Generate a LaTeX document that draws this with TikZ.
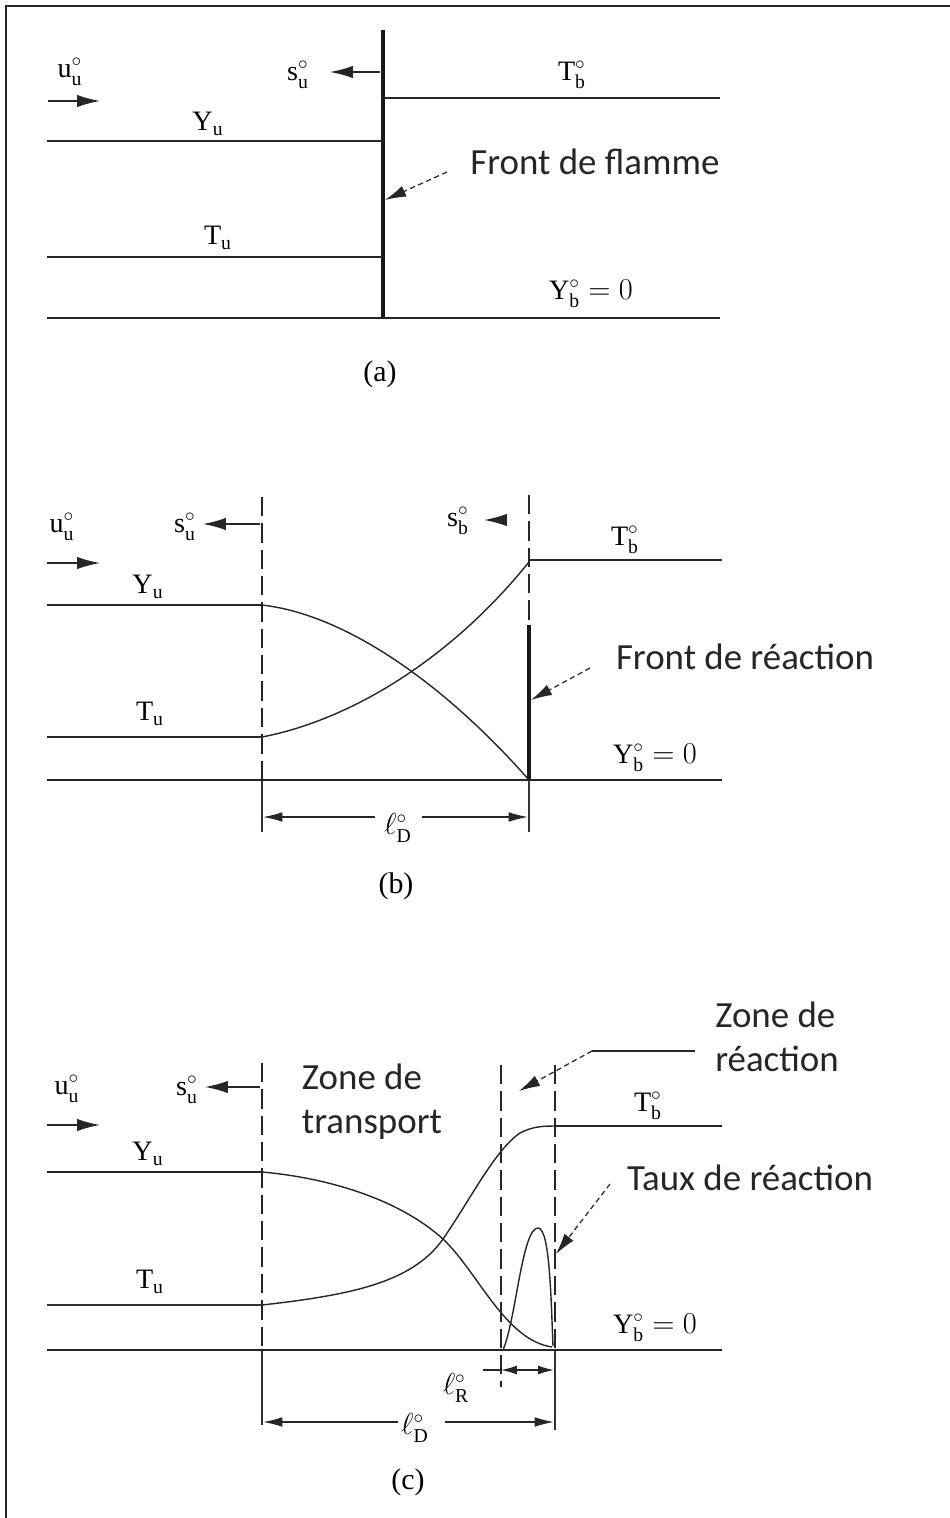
\documentclass[tikz,border=0pt]{standalone}
\usepackage{fontspec}
\setmainfont{Liberation Serif}
\newfontfamily\calib{Carlito}
\usetikzlibrary{arrows.meta, positioning}

\begin{document}
\begin{tikzpicture}[
    x=0.02cm, y=-0.02cm,
    axe/.style={line width=1.1pt, black!85},
    fin/.style={line width=0.6pt, black!80},
    front/.style={line width=1.9pt, black!90},
    tirets/.style={line width=0.9pt, black!85, dash pattern=on 11pt off 4pt},
    courbe/.style={line width=0.8pt, black!85},
    fleche/.style={line width=0.8pt, black!85, -{Latex[length=13pt,width=7pt]}},
    renvoi/.style={line width=0.7pt, black!85, densely dashed, -{Latex[length=12pt,width=6.5pt]}},
    cote/.style={line width=0.7pt, black!85, -{Latex[length=11pt,width=5.5pt]}},
    lab/.style={font=\fontsize{16}{18}\selectfont, inner sep=0pt},
    note/.style={font=\calib\fontsize{21}{25}\selectfont, inner sep=0pt, text=black!85, align=left},
    titre/.style={font=\fontsize{17}{20}\selectfont, inner sep=0pt}
  ]
  \useasboundingbox (0,0) rectangle (950,1518);
  \draw[line width=1.2pt, black!85] (6,1518) -- (6,6) -- (950,6);

  % (a) front de flamme infiniment mince
  \node[lab] (ua) at (70,72) {$\mathrm{u}_\mathrm{u}^{\circ}$};
  \coordinate (ua1) at (48,101);
  \coordinate (ua2) at (100,101);
  \draw[fleche] (ua1) -- (ua2);
  \node[lab] (sua) at (298,75) {$\mathrm{s}_\mathrm{u}^{\circ}$};
  \coordinate (sua1) at (380,72);
  \coordinate (sua2) at (330,72);
  \draw[fleche] (sua1) -- (sua2);

  \draw[front] (383,30) -- (383,318);
  \draw[axe] (383,98) -- (720,98);
  \draw[axe] (47,141) -- (383,141);
  \draw[axe] (47,257) -- (383,257);
  \draw[axe] (47,318) -- (720,318);

  \node[lab] (tba) at (572,75) {$\mathrm{T}_\mathrm{b}^{\circ}$};
  \node[lab] (yua) at (208,124) {$\mathrm{Y}_\mathrm{u}$};
  \node[lab] (tua) at (218,238) {$\mathrm{T}_\mathrm{u}$};
  \node[lab] (yba) at (591,294) {$\mathrm{Y}_\mathrm{b}^{\circ} = 0$};

  \node[note] (ffa) at (595,162) {Front de flamme};
  \coordinate (ffa1) at (447,172);
  \coordinate (ffa2) at (385,200);
  \draw[renvoi] (ffa1) -- (ffa2);
  \node[titre] (ta) at (380,374) {(a)};

  % (b) zone de transport + front de reaction
  \node[lab] (ub) at (62,527) {$\mathrm{u}_\mathrm{u}^{\circ}$};
  \coordinate (ub1) at (47,563);
  \coordinate (ub2) at (100,563);
  \draw[fleche] (ub1) -- (ub2);
  \node[lab] (sub) at (185,527) {$\mathrm{s}_\mathrm{u}^{\circ}$};
  \coordinate (sub1) at (260,524);
  \coordinate (sub2) at (203,524);
  \draw[fleche] (sub1) -- (sub2);
  \node[lab] (sbb) at (458,521) {$\mathrm{s}_\mathrm{b}^{\circ}$};
  \coordinate (sbb1) at (506,520);
  \coordinate (sbb2) at (484,520);
  \draw[fleche] (sbb1) -- (sbb2);

  \draw[tirets] (262,497) -- (262,780);
  \draw[fin] (262,780) -- (262,832);
  \draw[tirets] (529,495) -- (529,625);
  \draw[front] (529,625) -- (529,780);
  \draw[fin] (529,780) -- (529,832);

  \draw[axe] (529,560) -- (722,560);
  \draw[axe] (47,605) -- (262,605);
  \draw[axe] (47,737) -- (262,737);
  \draw[axe] (47,780) -- (722,780);
  \draw[courbe] (262,605) .. controls (350,615) and (450,690) .. (529,780);
  \draw[courbe] (262,737) .. controls (350,720) and (450,660) .. (529,562);

  \node[lab] (tbb) at (625,540) {$\mathrm{T}_\mathrm{b}^{\circ}$};
  \node[lab] (yub) at (148,587) {$\mathrm{Y}_\mathrm{u}$};
  \node[lab] (tub) at (150,714) {$\mathrm{T}_\mathrm{u}$};
  \node[lab] (ybb) at (655,758) {$\mathrm{Y}_\mathrm{b}^{\circ} = 0$};

  \node[note] (frb) at (745,657) {Front de réaction};
  \coordinate (frb1) at (590,668);
  \coordinate (frb2) at (531,700);
  \draw[renvoi] (frb1) -- (frb2);

  \node[lab] (ldb) at (398,828) {$\ell_\mathrm{D}^{\circ}$};
  \coordinate (ldb1) at (375,817);
  \coordinate (ldb2) at (263,817);
  \coordinate (ldb3) at (422,817);
  \coordinate (ldb4) at (528,817);
  \draw[cote] (ldb1) -- (ldb2);
  \draw[cote] (ldb3) -- (ldb4);
  \node[titre] (tb) at (396,886) {(b)};

  % (c) structure complete
  \node[lab] (uc) at (67,1089) {$\mathrm{u}_\mathrm{u}^{\circ}$};
  \coordinate (uc1) at (47,1125);
  \coordinate (uc2) at (100,1125);
  \draw[fleche] (uc1) -- (uc2);
  \node[lab] (suc) at (187,1090) {$\mathrm{s}_\mathrm{u}^{\circ}$};
  \coordinate (suc1) at (260,1087);
  \coordinate (suc2) at (205,1087);
  \draw[fleche] (suc1) -- (suc2);

  \draw[tirets, line width=0.6pt] (262,1063) -- (262,1350);
  \draw[fin] (262,1350) -- (262,1425);
  \draw[tirets, line width=0.6pt] (501,1065) -- (501,1387);
  \draw[tirets, line width=1.2pt] (555,1065) -- (555,1350);
  \draw[fin] (555,1350) -- (555,1430);

  \draw[axe] (555,1126) -- (722,1126);
  \draw[axe] (47,1172) -- (262,1172);
  \draw[fin] (47,1305) -- (262,1305);
  \draw[axe, line width=1.4pt] (47,1350) -- (722,1350);
  \draw[courbe] (262,1172) .. controls (330,1178) and (400,1200) .. (443,1239)
    .. controls (478,1272) and (505,1340) .. (552,1347);
  \draw[courbe] (262,1305) .. controls (350,1295) and (412,1283) .. (443,1239)
    .. controls (470,1200) and (495,1150) .. (520,1133)
    .. controls (532,1127) and (540,1126) .. (555,1126);
  \draw[courbe] (503,1350) .. controls (516,1320) and (522,1228) .. (538,1228)
    .. controls (550,1228) and (551,1300) .. (553,1346);

  \node[note] (ztc) at (372,1102) {Zone de\\transport};
  \node[note] (zrc) at (777,1037) {Zone de\\réaction};
  \coordinate (zrc1) at (695,1051);
  \coordinate (zrc2) at (592,1051);
  \coordinate (zrc3) at (519,1091);
  \draw[line width=0.7pt, black!85] (zrc1) -- (zrc2);
  \draw[renvoi] (zrc2) -- (zrc3);
  \node[note] (trc) at (750,1178) {Taux de réaction};
  \coordinate (trc1) at (610,1184);
  \coordinate (trc2) at (556,1254);
  \draw[renvoi] (trc1) -- (trc2);

  \node[lab] (tbc) at (648,1106) {$\mathrm{T}_\mathrm{b}^{\circ}$};
  \node[lab] (yuc) at (148,1154) {$\mathrm{Y}_\mathrm{u}$};
  \node[lab] (tuc) at (150,1282) {$\mathrm{T}_\mathrm{u}$};
  \node[lab] (ybc) at (655,1328) {$\mathrm{Y}_\mathrm{b}^{\circ} = 0$};

  \node[lab] (lrc) at (456,1388) {$\ell_\mathrm{R}^{\circ}$};
  \coordinate (lrc1) at (483,1370);
  \coordinate (lrc2) at (501,1370);
  \coordinate (lrc3) at (554,1370);
  \draw[line width=0.7pt, black!85] (lrc1) -- (lrc2);
  \draw[line width=0.7pt, black!85, {Latex[length=9pt,width=5pt]}-{Latex[length=9pt,width=5pt]}] (lrc2) -- (lrc3);
  \node[lab] (ldc) at (415,1428) {$\ell_\mathrm{D}^{\circ}$};
  \coordinate (ldc1) at (398,1422);
  \coordinate (ldc2) at (263,1422);
  \coordinate (ldc3) at (445,1422);
  \coordinate (ldc4) at (554,1422);
  \draw[cote] (ldc1) -- (ldc2);
  \draw[cote] (ldc3) -- (ldc4);
  \node[titre] (tc) at (408,1482) {(c)};
\end{tikzpicture}
\end{document}
